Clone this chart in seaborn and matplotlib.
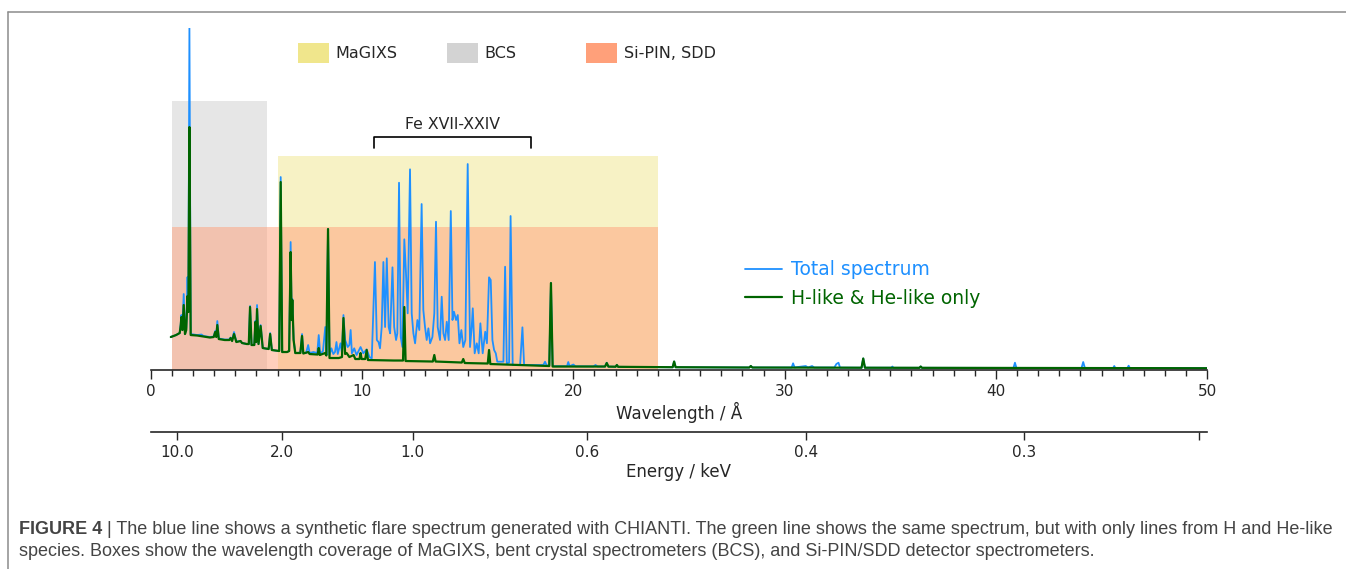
import numpy as np
import pandas as pd
import matplotlib.pyplot as plt
import seaborn as sns
from matplotlib.lines import Line2D
from matplotlib.patches import Patch
from matplotlib.ticker import MultipleLocator

# spectra: (wavelength in Angstrom, intensity in arbitrary units)
total_spectrum = [
    (0.95, 33), (1.20, 35), (1.37, 37), (1.42, 46), (1.45, 55), (1.50, 40), (1.56, 76),
    (1.62, 36), (1.68, 42), (1.74, 93), (1.78, 60), (1.83, 342), (1.89, 36), (2.20, 35),
    (2.40, 35.5), (2.50, 34), (2.80, 33), (2.98, 33.5), (3.05, 39), (3.10, 33.5), (3.15, 49),
    (3.22, 31.5), (3.50, 30.5), (3.72, 30.5), (3.78, 32.5), (3.85, 29.5), (3.94, 38), (4.05, 28.5),
    (4.25, 29), (4.32, 27), (4.55, 26), (4.64, 26), (4.70, 64), (4.77, 25), (4.90, 25),
    (4.95, 49), (4.99, 28), (5.03, 65), (5.10, 26), (5.20, 45), (5.30, 22), (5.58, 21),
    (5.65, 37), (5.73, 20), (6.08, 19), (6.15, 193), (6.22, 18), (6.45, 18), (6.55, 19),
    (6.62, 128), (6.67, 52), (6.70, 71), (6.76, 31), (6.84, 17), (7.08, 17.5), (7.16, 36),
    (7.22, 17), (7.35, 17), (7.45, 25), (7.52, 17), (7.70, 18), (7.88, 17), (7.95, 35),
    (8.02, 16), (8.15, 19), (8.26, 43), (8.32, 15), (8.39, 141), (8.46, 15), (8.55, 21.7),
    (8.64, 16), (8.72, 18), (8.79, 28), (8.85, 16), (8.98, 26.7), (9.05, 17), (9.12, 55),
    (9.20, 30), (9.32, 23), (9.40, 25), (9.46, 40), (9.52, 16.7), (9.63, 21.7), (9.74, 15),
    (9.86, 20), (9.93, 23), (10.06, 16.7), (10.22, 20.7), (10.35, 13), (10.46, 11.7),
    (10.61, 108), (10.70, 30), (10.78, 28), (10.85, 21.7), (10.93, 43), (11.01, 108),
    (11.09, 43), (11.17, 111.7), (11.26, 43), (11.33, 36.7), (11.44, 102.7), (11.52, 43),
    (11.61, 30), (11.67, 36.7), (11.75, 187.3), (11.83, 33), (11.91, 23), (12.00, 130.7),
    (12.08, 96.7), (12.16, 56.7), (12.27, 200.7), (12.35, 56.7), (12.43, 36.7), (12.51, 26.7),
    (12.62, 50), (12.71, 40), (12.82, 166), (12.90, 60), (12.98, 43), (13.06, 30),
    (13.14, 41.7), (13.22, 26.7), (13.33, 33), (13.42, 56.7), (13.50, 148.3), (13.58, 43),
    (13.69, 30), (13.77, 73.3), (13.85, 36.7), (13.93, 30), (14.01, 48.3), (14.10, 30),
    (14.20, 159), (14.28, 50), (14.35, 58.3), (14.45, 50), (14.53, 55), (14.61, 26.7),
    (14.70, 40), (14.79, 23), (14.89, 30), (15.00, 206), (15.11, 23), (15.19, 43),
    (15.24, 61.7), (15.33, 16.7), (15.43, 26.7), (15.52, 16.7), (15.60, 46.7), (15.71, 16.7),
    (15.83, 38.3), (15.91, 26.7), (16.01, 92.7), (16.09, 90), (16.17, 30), (16.25, 20),
    (16.33, 16.7), (16.40, 8.3), (16.69, 8.3), (16.77, 103.3), (16.85, 6.7), (16.96, 7.5),
    (17.03, 154), (17.13, 5), (17.48, 5), (17.59, 42.7), (17.67, 5), (18.58, 5), (18.66, 8.3),
    (18.74, 4.5), (18.86, 4.5), (18.94, 87), (19.02, 3.8), (19.70, 3.8), (19.76, 8),
    (19.82, 3.8), (20.00, 5.5), (20.10, 3.7), (20.95, 3.6), (21.05, 5), (21.15, 3.5),
    (21.50, 3.5), (21.58, 7.3), (21.66, 3.4), (22.00, 3.3), (22.06, 5), (22.12, 3.2),
    (24.70, 2.8), (24.77, 8.5), (24.84, 2.8), (28.33, 2.5), (28.40, 4), (28.47, 2.5),
    (30.33, 2.5), (30.40, 6.7), (30.47, 2.6), (31.00, 4), (31.10, 2.5), (31.30, 4), (31.40, 2.5),
    (32.35, 2.5), (32.45, 6), (32.55, 7.3), (32.62, 2.4), (33.64, 2.3), (33.72, 11.5),
    (33.80, 2.3), (35.05, 2.3), (35.10, 3.5), (35.15, 2.2), (36.38, 2.2), (36.44, 3.5),
    (36.50, 2.2), (40.83, 2.1), (40.90, 7.3), (40.97, 2.1), (44.05, 2.0), (44.13, 8),
    (44.21, 2.0), (45.55, 2.0), (45.60, 4), (45.65, 2.0), (46.22, 2.0), (46.28, 4.3),
    (46.34, 2.0), (50.00, 1.8),
]

hhe_spectrum = [
    (0.95, 33), (1.20, 35), (1.37, 37), (1.42, 45), (1.45, 53), (1.50, 40), (1.56, 65),
    (1.62, 36), (1.68, 40), (1.74, 74), (1.78, 58), (1.83, 243), (1.89, 35), (2.20, 34.5),
    (2.50, 33.5), (2.80, 32.5), (2.98, 33), (3.05, 38), (3.10, 33), (3.15, 45), (3.22, 31),
    (3.50, 30), (3.72, 30), (3.78, 32), (3.85, 29), (3.94, 36), (4.05, 28), (4.25, 29),
    (4.32, 27), (4.55, 26), (4.64, 26), (4.70, 63), (4.77, 25), (4.90, 25), (4.95, 48),
    (4.99, 28), (5.03, 61), (5.10, 26), (5.20, 44), (5.30, 22), (5.58, 21), (5.65, 36),
    (5.73, 20), (6.08, 19), (6.15, 188), (6.22, 18), (6.45, 18), (6.55, 19), (6.62, 118),
    (6.67, 50), (6.70, 70), (6.76, 30), (6.84, 17), (7.08, 17), (7.16, 34), (7.22, 16.5),
    (7.45, 18), (7.52, 16), (7.90, 15.5), (7.95, 22), (8.00, 15), (8.25, 17), (8.31, 14.5),
    (8.39, 141), (8.46, 12), (8.90, 12), (9.05, 13), (9.12, 52), (9.20, 16), (9.27, 17),
    (9.40, 13), (9.60, 15), (9.68, 11), (9.88, 11), (9.93, 17), (9.98, 11), (10.15, 11),
    (10.22, 20), (10.28, 10), (11.50, 9.5), (11.94, 9.5), (12.00, 63), (12.06, 9),
    (13.35, 8.5), (13.42, 15), (13.48, 8.5), (14.72, 7.5), (14.79, 11), (14.86, 7),
    (15.95, 6.5), (16.01, 20), (16.07, 6), (18.86, 4), (18.94, 87), (19.02, 3.5),
    (21.50, 3.5), (21.58, 7), (21.66, 3.4), (22.00, 3.3), (22.06, 5), (22.12, 3.2),
    (24.70, 2.8), (24.77, 8.5), (24.84, 2.8), (28.33, 2.5), (28.40, 4), (28.47, 2.5),
    (33.64, 2.3), (33.72, 11.5), (33.80, 2.3), (36.38, 2.2), (36.44, 3.5), (36.50, 2.2),
    (50.00, 1.8),
]

series_labels = ["Total spectrum", "H-like & He-like only"]
series_colors = ["#1E90FF", "#006400"]
series_widths = [1.3, 1.6]

# instrument coverage boxes
box_names = ["BCS", "MaGIXS", "Si-PIN, SDD"]
box_start = [1.0, 6.0, 1.0]
box_end = [5.5, 24.0, 24.0]
box_top = [269, 214, 143]
box_colors = ["#D3D3D3", "#F0E68C", "#FFA07A"]
box_alpha = [0.55, 0.5, 0.5]

legend_order = ["MaGIXS", "BCS", "Si-PIN, SDD"]
legend_x = [0.2214, 0.3321, 0.4354]

fe_label = "Fe XVII-XXIV"
fe_range = (10.55, 18.0)
fe_bracket = (221.7, 232.7)

energy_ticks = [10.0, 2.0, 1.0, 0.6, 0.4, 0.3, 0.25]
energy_labels = ["10.0", "2.0", "1.0", "0.6", "0.4", "0.3", ""]
HC = 12.398  # keV * Angstrom

caption_bold = "FIGURE 4"
caption_line1 = (" | The blue line shows a synthetic flare spectrum generated with CHIANTI. "
                 "The green line shows the same spectrum, but with only lines from H and He-like")
caption_line2 = ("species. Boxes show the wavelength coverage of MaGIXS, bent crystal "
                 "spectrometers (BCS), and Si-PIN/SDD detector spectrometers.")

sns.set_style("ticks")
plt.rcParams["font.family"] = ["DejaVu Sans"]

fig = plt.figure(figsize=(13.46, 5.69), dpi=100)
ax = fig.add_axes([0.112, 0.3497, 0.7849, 0.601])

for x0, x1, top, color, alpha in zip(box_start, box_end, box_top, box_colors, box_alpha):
    ax.bar(x0, top, width=x1 - x0, align="edge", color=color, alpha=alpha, linewidth=0)

for label, pts, color, lw in zip(series_labels, [total_spectrum, hhe_spectrum],
                                 series_colors, series_widths):
    wl, flux = zip(*pts)
    df = pd.DataFrame({"wavelength": wl, "flux": flux})
    sns.lineplot(data=df, x="wavelength", y="flux", color=color, linewidth=lw,
                 estimator=None, sort=False, label=label, ax=ax)

line_handles, line_labels = ax.get_legend_handles_labels()
if ax.get_legend() is not None:
    ax.get_legend().remove()

# Fe bracket
ax.plot([fe_range[0], fe_range[0], fe_range[1], fe_range[1]],
        [fe_bracket[0], fe_bracket[1], fe_bracket[1], fe_bracket[0]],
        color="black", linewidth=1.2)
ax.text(np.mean(fe_range), fe_bracket[1] + 13, fe_label, ha="center", va="center", fontsize=11.3)

ax.set_xlim(0, 50)
ax.set_ylim(0, 342)
ax.set_yticks([])
ax.set_ylabel("")
for side in ["left", "right", "top"]:
    ax.spines[side].set_visible(False)
ax.spines["bottom"].set_linewidth(1.2)
ax.xaxis.set_major_locator(MultipleLocator(10))
ax.xaxis.set_minor_locator(MultipleLocator(1))
ax.tick_params(axis="x", which="major", length=6.5, width=1.0, labelsize=11, pad=3.5)
ax.tick_params(axis="x", which="minor", length=4.5, width=1.0)
ax.set_xlabel("Wavelength / Å", fontsize=12, labelpad=2)

# energy axis below
ax2 = ax.twiny()
ax2.set_xlim(ax.get_xlim())
ax2.xaxis.set_ticks_position("bottom")
ax2.xaxis.set_label_position("bottom")
ax2.spines["bottom"].set_position(("outward", 44.6))
for side in ["left", "right", "top"]:
    ax2.spines[side].set_visible(False)
ax2.spines["bottom"].set_linewidth(1.2)
ax2.set_xticks(HC / np.array(energy_ticks))
ax2.set_xticklabels(energy_labels)
ax2.tick_params(axis="x", which="major", length=6, width=1.0, labelsize=11, pad=3.5)
ax2.set_xlabel("Energy / keV", fontsize=12, labelpad=2)

# legends
for name, lx in zip(legend_order, legend_x):
    i = box_names.index(name)
    fig.legend(handles=[Patch(facecolor=box_colors[i], edgecolor="none")], labels=[name],
               loc="center left", bbox_to_anchor=(lx, 0.9069), frameon=False,
               fontsize=11.5, handlelength=1.95, handleheight=1.5, handletextpad=0.4,
               borderpad=0, borderaxespad=0)

fig.legend(handles=line_handles, labels=line_labels, loc="center left",
           bbox_to_anchor=(0.5535, 0.5010), frameon=False, fontsize=13.5,
           handlelength=1.96, handletextpad=0.48, labelspacing=0.5,
           borderpad=0, borderaxespad=0, labelcolor="linecolor")

# frame around the figure panel
fig.add_artist(Line2D([0.0059, 1.0], [0.9789, 0.9789], transform=fig.transFigure,
                      color="#8c8c8c", linewidth=1.1))
fig.add_artist(Line2D([0.0059, 0.0059], [0.0, 0.9789], transform=fig.transFigure,
                      color="#8c8c8c", linewidth=1.1))

# caption
cap_font = dict(family=["Liberation Sans", "DejaVu Sans"], fontsize=13.0, color="#444444")
bold = fig.text(0.0141, 0.062, caption_bold, fontweight="bold", va="baseline", **cap_font)
ax.annotate(caption_line1, xy=(1, 0), xycoords=bold, va="bottom", ha="left",
            annotation_clip=False, **cap_font)
fig.text(0.0141, 0.0230, caption_line2, va="baseline", **cap_font)

fig.savefig("out.png", dpi=100)
